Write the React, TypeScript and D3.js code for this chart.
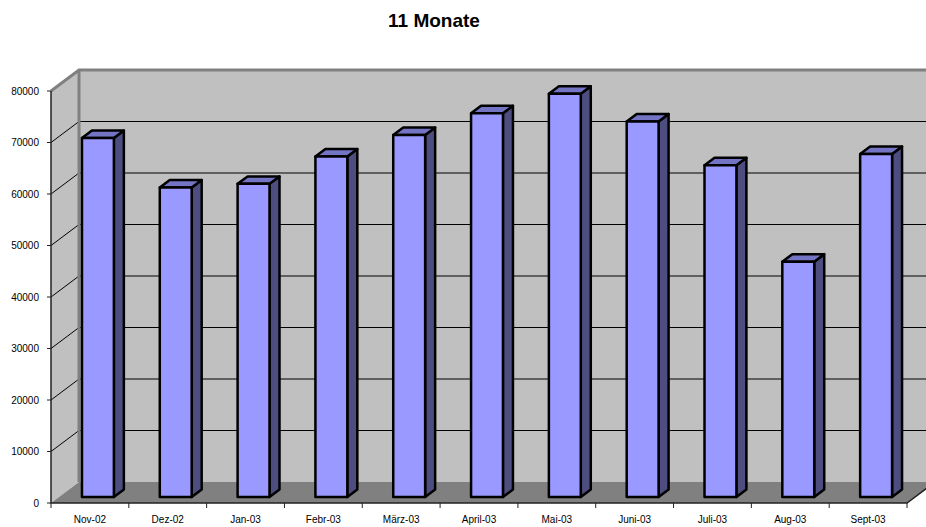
import React from 'react';
import * as d3 from 'd3';

// Monthly totals shown as 3-D columns
const categories = ['Nov-02', 'Dez-02', 'Jan-03', 'Febr-03', 'März-03', 'April-03', 'Mai-03', 'Juni-03', 'Juli-03', 'Aug-03', 'Sept-03'];
const values = [69700, 60100, 60800, 66100, 70300, 74500, 78300, 72900, 64400, 45700, 66600];
const yTicks = [0, 10000, 20000, 30000, 40000, 50000, 60000, 70000, 80000];
const title = '11 Monate';

const W = 926;
const H = 527;
const X0 = 51;
const X1 = 907;
const DX = 28; // depth offset of the back wall
const DY = -21;
const F1 = 0.286; // column front plane (fraction of depth)
const F2 = 0.643; // column back plane
const FONT = '"Liberation Sans", Arial, sans-serif';

export default function App() {
  const x = d3.scaleBand<string>().domain(categories).range([X0, X1]).padding(0);
  const y = d3.scaleLinear().domain([0, 80000]).range([503, 91]);
  const bw = x.bandwidth();

  const pt = (px: number, v: number, f: number): [number, number] => [px + f * DX, y(v) + f * DY];
  const poly = (ps: [number, number][]) => ps.map((p) => p.join(',')).join(' ');
  const line = d3.line();

  const yMax = 80000;
  const backWall = [pt(X0, yMax, 1), pt(X1, yMax, 1), pt(X1, 0, 1), pt(X0, 0, 1)];
  const leftWall = [pt(X0, yMax, 0), pt(X0, yMax, 1), pt(X0, 0, 1), pt(X0, 0, 0)];
  const floor = [pt(X0, 0, 0), pt(X1, 0, 0), pt(X1, 0, 1), pt(X0, 0, 1)];

  const catTicks = [...categories.map((c) => x(c) as number), X1];

  return (
    <div style={{ position: 'fixed', left: 0, top: 0, width: W, height: H, background: '#fff' }}>
      <svg width={W} height={H} style={{ display: 'block' }}>
        <rect width={W} height={H} fill="#fff" />
        <text x={434} y={27} textAnchor="middle" fontFamily={FONT} fontWeight="bold" fontSize={19} fill="#000">
          {title}
        </text>

        {/* walls and floor */}
        <polygon points={poly(backWall)} fill="#C0C0C0" />
        <polygon points={poly(leftWall)} fill="#C0C0C0" />
        <polygon points={poly(floor)} fill="#808080" />

        {/* gridlines across the side and back walls */}
        {yTicks
          .filter((t) => t > 0 && t < yMax)
          .map((t) => (
            <path
              key={'g' + t}
              d={line([pt(X0, t, 0), pt(X0, t, 1), pt(X1, t, 1)]) || ''}
              fill="none"
              stroke="#000"
              strokeWidth={1}
            />
          ))}

        {/* wall edges */}
        <path d={line([pt(X0, yMax, 0), pt(X0, yMax, 1), pt(X1 + 40, yMax, 1)]) || ''} fill="none" stroke="#808080" strokeWidth={3} />
        <path d={line([pt(X0, yMax, 1), pt(X0, 0, 1)]) || ''} fill="none" stroke="#808080" strokeWidth={3} />

        {/* axes */}
        <path d={line([pt(X0, yMax, 0), pt(X0, 0, 0), pt(X1, 0, 0), pt(X1, 0, 1)]) || ''} fill="none" stroke="#222" strokeWidth={1.5} />
        {yTicks.map((t) => (
          <g key={'yt' + t}>
            <line x1={X0 - 4} x2={X0} y1={y(t)} y2={y(t)} stroke="#222" strokeWidth={1} />
            <text x={39} y={y(t) + 3.5} textAnchor="end" fontFamily={FONT} fontSize={10} fill="#000">
              {t}
            </text>
          </g>
        ))}
        {catTicks.map((cx, i) => (
          <line key={'xt' + i} x1={cx} x2={cx} y1={503} y2={508} stroke="#222" strokeWidth={1} />
        ))}
        {categories.map((c) => (
          <text key={'xl' + c} x={(x(c) as number) + bw / 2} y={523} textAnchor="middle" fontFamily={FONT} fontSize={10} fill="#000">
            {c}
          </text>
        ))}

        {/* columns */}
        {categories.map((c, i) => {
          const v = values[i];
          const cx = (x(c) as number) + bw / 2;
          const half = bw * 0.205;
          const l = cx - half;
          const r = cx + half;
          const front = [pt(l, v, F1), pt(r, v, F1), pt(r, 0, F1), pt(l, 0, F1)];
          const side = [pt(r, v, F1), pt(r, v, F2), pt(r, 0, F2), pt(r, 0, F1)];
          const top = [pt(l, v, F1), pt(l, v, F2), pt(r, v, F2), pt(r, v, F1)];
          return (
            <g key={'b' + c} stroke="#000" strokeWidth={2.5} strokeLinejoin="round">
              <polygon points={poly(side)} fill="#4D4D80" />
              <polygon points={poly(top)} fill="#7474C4" />
              <polygon points={poly(front)} fill="#9999FF" />
            </g>
          );
        })}
      </svg>
    </div>
  );
}
